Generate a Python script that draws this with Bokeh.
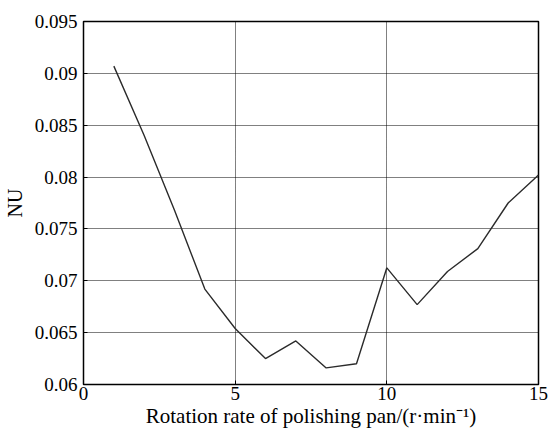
from bokeh.plotting import figure
from bokeh.models import FixedTicker, Range1d
from bokeh.embed import file_html
from bokeh.resources import INLINE

rate = [1, 2, 3, 4, 5, 6, 7, 8, 9, 10, 11, 12, 13, 14, 15]
nu = [0.0907, 0.0840, 0.0768, 0.0692, 0.0654, 0.0625, 0.0642, 0.0616, 0.0620,
      0.07125, 0.0677, 0.0709, 0.0731, 0.0775, 0.0802]

x_ticks = [0, 5, 10, 15]
y_ticks = [0.06, 0.065, 0.07, 0.075, 0.08, 0.085, 0.09, 0.095]
y_tick_labels = ["0.06", "0.065", "0.07", "0.075", "0.08", "0.085", "0.09", "0.095"]

x_title = "Rotation rate of polishing pan/(r·min⁻¹)"
y_title = "NU"

FONT = "Liberation Serif"

p = figure(width=550, height=430, output_backend="svg", toolbar_location=None,
           x_range=Range1d(0, 15), y_range=Range1d(0.06, 0.095),
           min_border_left=82, min_border_right=12, min_border_top=21, min_border_bottom=46,
           background_fill_color="white", border_fill_color="white")

p.line(rate, nu, line_color="#2b2b2b", line_width=1.4)

p.xaxis.ticker = FixedTicker(ticks=x_ticks)
p.yaxis.ticker = FixedTicker(ticks=y_ticks)
p.yaxis.major_label_overrides = {t: l for t, l in zip(y_ticks, y_tick_labels)}

p.axis.major_label_text_font = FONT
p.axis.major_label_text_font_size = "19px"
p.axis.major_label_text_font_style = "normal"
p.axis.major_label_text_color = "black"
p.axis.axis_label_text_font = FONT
p.axis.axis_label_text_font_style = "normal"
p.axis.axis_label_text_color = "black"
p.axis.axis_line_color = None
p.axis.major_tick_in = 4
p.axis.major_tick_out = 0
p.axis.major_tick_line_color = "black"
p.axis.minor_tick_line_color = None

p.xaxis.major_label_standoff = 2
p.xaxis.axis_label = x_title
p.xaxis.axis_label_text_font_size = "21px"
p.xaxis.axis_label_standoff = 1

p.yaxis.major_label_standoff = 6
p.yaxis.axis_label = y_title
p.yaxis.axis_label_text_font_size = "20px"
p.yaxis.axis_label_standoff = 6

p.xgrid.ticker = FixedTicker(ticks=[5, 10])
p.xgrid.grid_line_color = "black"
p.xgrid.grid_line_dash = "1 1"
p.xgrid.grid_line_width = 1
p.ygrid.ticker = FixedTicker(ticks=y_ticks[1:-1])
p.ygrid.grid_line_color = "black"
p.ygrid.grid_line_dash = "1 1"
p.ygrid.grid_line_width = 1

p.outline_line_color = "black"
p.outline_line_width = 1.5

open("out.html", "w").write(file_html(p, INLINE))
